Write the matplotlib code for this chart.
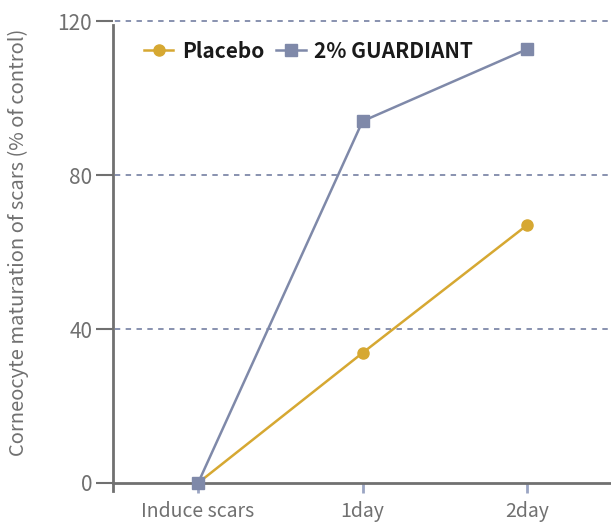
import matplotlib
matplotlib.use("Agg")
import matplotlib.pyplot as plt

categories = ["Induce scars", "1day", "2day"]
placebo = [0, 33.8, 67.0]
guardiant = [0, 94.0, 112.7]
yticks = [0, 40, 80, 120]

GOLD = "#d6a832"
BLUE = "#7f89a9"
GRAY = "#707070"

plt.rcParams["font.family"] = ["Noto Sans CJK KR", "DejaVu Sans"]

fig = plt.figure(figsize=(6.11, 5.22), dpi=100)
ax = fig.add_axes([0.185, 0.06, 0.815, 0.907])

x = list(range(len(categories)))
ax.plot(x, placebo, color=GOLD, lw=1.8, marker="o", ms=8, label="Placebo", zorder=3)
ax.plot(x, guardiant, color=BLUE, lw=1.8, marker="s", ms=9, label="2% GUARDIANT", zorder=4)

ax.set_xlim(-0.517, 2.51)
ax.set_ylim(-2, 121)

# dashed guide lines, starting a little left of the axis
for y in yticks[1:]:
    ax.plot([-0.57, 2.51], [y, y], color=BLUE, lw=1.3, ls=(0, (3, 3)), zorder=1, clip_on=False)

for s in ["top", "right"]:
    ax.spines[s].set_visible(False)
ax.spines["left"].set_bounds(-2, 119)
ax.spines["left"].set_color(GRAY)
ax.spines["left"].set_linewidth(2)
ax.spines["bottom"].set_position(("data", 0))
ax.spines["bottom"].set_color(GRAY)
ax.spines["bottom"].set_linewidth(2)

ax.set_yticks(yticks)
ax.set_yticklabels([str(v) for v in yticks], fontsize=15, color=GRAY)
ax.tick_params(axis="y", length=12, width=1.5, color=GRAY, pad=3)
ax.set_xticks(x)
ax.set_xticklabels(categories, fontsize=14, color=GRAY)
ax.tick_params(axis="x", length=7, width=2, color="#9aa5c3", pad=6)

ax.set_ylabel("Corneocyte maturation of scars (% of control)", fontsize=14.5, color=GRAY)
ax.yaxis.set_label_coords(-0.168, 0.525)

leg = ax.legend(loc="upper left", bbox_to_anchor=(0.025, 0.99), ncol=2, frameon=False,
                handlelength=1.4, columnspacing=0.6, handletextpad=0.4,
                prop={"weight": "bold", "size": 15})
for t in leg.get_texts():
    t.set_color("#1a1a1a")

fig.savefig("out.png", dpi=100)
